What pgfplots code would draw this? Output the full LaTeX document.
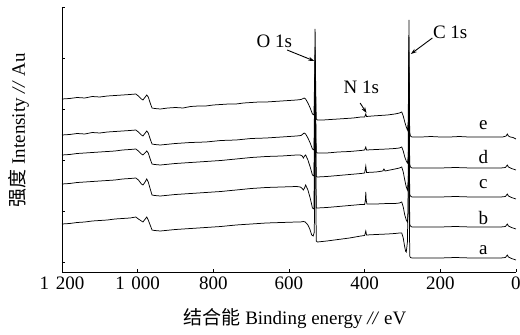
\documentclass[border=0pt]{standalone}
\usepackage{fontspec}
\setmainfont{Liberation Serif}
\newfontfamily\cjk{Noto Sans CJK SC}
\usepackage{pgfplots}
\usetikzlibrary{arrows.meta}
\pgfplotsset{compat=1.18}
\begin{document}
\begin{tikzpicture}
\begin{axis}[
  scale only axis, width=454bp, height=265bp,
  x dir=reverse, xmin=0, xmax=1200, ymin=0, ymax=265,
  axis x line*=bottom, axis y line*=left,
  axis line style={line width=0.9pt},
  xtick={0,200,400,600,800,1000,1200},
  xticklabels={0,200,400,600,800,1\hspace{0.35em}000,1\hspace{0.35em}200},
  ytick={10,61,112,163,214,265}, yticklabels={},
  tick align=inside, major tick length=3bp,
  tick style={black, line width=0.8pt},
  tick label style={font=\fontsize{19bp}{22bp}\selectfont},
  xticklabel style={yshift=-1bp},
  label style={font=\fontsize{19bp}{22bp}\selectfont},
  xlabel={{\cjk 结合能} Binding energy \textit{//} eV},
  ylabel={{\cjk 强度} Intensity \textit{//} Au},
  xlabel style={at={(axis description cs:0.513,-0.174)},anchor=center},
  ylabel style={at={(axis description cs:-0.095,0.535)},anchor=center},
  clip=false,
]
\coordinate (o) at (rel axis cs:0,0);
% e
\addplot[black, line width=0.75pt] coordinates {
(1200,173)(1180,173.5)(1160,174.5)(1140,174)(1120,175.5)(1100,175)(1080,176)(1060,176.5)(1040,177)(1020,177.5)(1005,178)(998,176)(990,173)(986,172)(982,174)(976,177)(972,175)(966,168)(962,164)(955,163.5)(940,163)(920,164)(900,164.5)(880,164)(860,165.5)(840,166)(820,166)(800,167)(780,167.5)(760,168)(740,168)(720,169)(700,169.5)(680,170)(660,170)(640,170.5)(620,171)(600,171.5)(580,172)(568,172.5)(560,174)(556,173)(550,169)(544,164)(538,158)(534,157)(532,200)(531,243)(530,200)(528,153)(525,152)(510,152)(490,152.5)(470,153)(450,153.5)(430,154)(410,155)(400,155)(397,158)(395,155.5)(380,156)(360,156.5)(340,157)(320,158)(308,159)(302,160)(298,156)(294,150)(290,145)(287,142)(285,150)(283.5,200)(283,252)(282.5,200)(281,140)(279,136)(275,135)(250,135)(225,135.5)(200,135)(175,135)(150,135.5)(125,135)(100,135)(75,135)(50,135)(35,135)(26,136)(23,138)(20,136)(15,135)(8,134.5)(0,133)
};
% d
\addplot[black, line width=0.75pt] coordinates {
(1200,137)(1180,137.5)(1160,138.5)(1140,138)(1120,139.5)(1100,139)(1080,140)(1060,140.5)(1040,141)(1020,141.5)(1005,142)(998,140)(990,137)(986,136)(982,138)(976,141)(972,139)(966,132)(962,128)(955,127.5)(940,127)(900,128.5)(860,129.5)(820,130)(780,131.5)(740,132)(700,133.5)(660,134)(620,135)(580,136)(568,136.5)(560,139)(556,138)(550,134)(544,129)(538,123)(534,122)(532,180)(531,225)(530,180)(528,120)(525,119)(500,119)(470,120)(440,120.5)(410,121.5)(400,122)(397,125)(395,122)(370,122.5)(340,123)(320,123.5)(308,124)(302,125)(298,121)(294,115)(290,111)(287,109)(285,115)(283.5,190)(283,235)(282.5,190)(281,108)(279,105)(275,104)(240,104)(200,104)(160,104.5)(120,104)(80,104)(40,104)(28,104.5)(23,107)(20,105)(12,103.5)(0,102)
};
% c
\addplot[black, line width=0.75pt] coordinates {
(1200,117)(1180,117.5)(1160,118.5)(1140,119)(1120,119.5)(1100,120)(1080,120.5)(1060,121)(1040,122)(1020,122.5)(1005,123)(998,121)(990,118)(986,117)(982,118.5)(976,121)(972,119)(966,112)(962,108)(955,107.5)(940,107)(900,108.5)(860,109.5)(820,110.5)(780,111.5)(740,113)(700,114.5)(660,115.5)(620,116)(580,117)(570,117)(565,116)(562,114)(559,116)(556,117)(550,112)(544,105)(538,97)(534,96)(532,160)(531,210)(530,160)(528,95.5)(525,95)(500,95.5)(470,96.5)(440,97.5)(410,98.5)(400,99)(397,106)(395,99.5)(370,100)(352,101)(349,103)(346,101)(320,103)(308,104)(302,105)(298,100)(294,92)(290,85)(287,82)(285,90)(283.5,175)(283,220)(282.5,175)(281,78)(279,76)(275,75)(240,75)(200,75)(160,75.5)(120,75)(80,75)(40,75)(28,75.5)(23,78)(20,76)(12,74.5)(0,73)
};
% b
\addplot[black, line width=0.75pt] coordinates {
(1200,88)(1180,88.5)(1160,89.5)(1140,90)(1120,90.5)(1100,91)(1080,91.5)(1060,92)(1040,93)(1020,93.5)(1005,94)(998,92)(990,88)(986,87)(982,89)(976,93)(972,90)(966,82)(962,77)(955,76.5)(940,76)(900,77.5)(860,78.5)(820,79.5)(780,80.5)(740,82)(700,83.5)(660,84.5)(620,85)(580,85.5)(570,85)(565,83.5)(562,82)(559,84)(556,87)(550,82)(544,74)(538,64)(534,63)(532,150)(531,195)(530,150)(528,64)(525,64)(500,64.5)(470,65.5)(440,66.5)(410,67.5)(400,67.5)(398,72)(397,80)(396,72)(394,68)(370,68)(340,68.5)(320,68.5)(308,69)(302,70)(298,65)(294,57)(290,52)(287,50)(285,58)(283.5,165)(283,205)(282.5,165)(281,48)(279,46)(275,45)(240,45)(200,45)(160,45.5)(120,45)(80,45)(40,45)(28,45.5)(23,48)(20,46)(12,44.5)(0,43)
};
% a
\addplot[black, line width=0.75pt] coordinates {
(1200,48)(1180,48.5)(1160,49.5)(1140,50)(1120,51)(1100,51.5)(1080,52)(1060,53)(1040,53.5)(1020,54)(1005,55)(998,53)(990,51)(986,50)(982,52)(976,55)(972,52)(966,46)(962,42)(955,41.5)(940,41)(900,42.5)(860,43.5)(820,44.5)(780,45.5)(740,47)(700,48)(660,49)(620,49.5)(580,50)(570,50)(562,50.5)(557,50)(550,47)(545,43)(540,37)(536,36)(533,40)(532,140)(531,180)(530,140)(528,31)(525,30)(500,31)(470,32.5)(440,34)(410,36)(400,36.5)(397,41)(395,37)(370,37.5)(340,38)(320,38.5)(308,39)(302,39)(298,34)(295,27)(292,21)(290,20)(287,30)(284,100)(283,190)(282,100)(281,16)(279,14.5)(275,14)(240,14)(200,14)(160,14.5)(120,14)(80,14)(40,14)(28,14.5)(23,17)(20,15)(12,13.5)(0,12)
};
\begin{scope}[font=\fontsize{19bp}{22bp}\selectfont]
\node at (axis cs:86,147) {e};
\node at (axis cs:86,115) {d};
\node at (axis cs:86,88) {c};
\node at (axis cs:86,54) {b};
\node at (axis cs:86,22) {a};
\node at (axis cs:639,231) {O 1s};
\node at (axis cs:174,240) {C 1s};
\node at (axis cs:409,185) {N 1s};
\end{scope}
\draw[-{Stealth[length=6bp,width=4bp]}, line width=0.9pt] (axis cs:605,222) -- (axis cs:533,211);
\draw[-{Stealth[length=6bp,width=4bp]}, line width=0.9pt] (axis cs:221,234) -- (axis cs:278,218);
\draw[-{Stealth[length=6bp,width=4bp]}, line width=0.9pt] (axis cs:412,169) -- (axis cs:395,159);
\end{axis}
\pgfresetboundingbox
\useasboundingbox (o) ++(-62bp,-63bp) rectangle ++(520bp,335bp);
\end{tikzpicture}
\end{document}
